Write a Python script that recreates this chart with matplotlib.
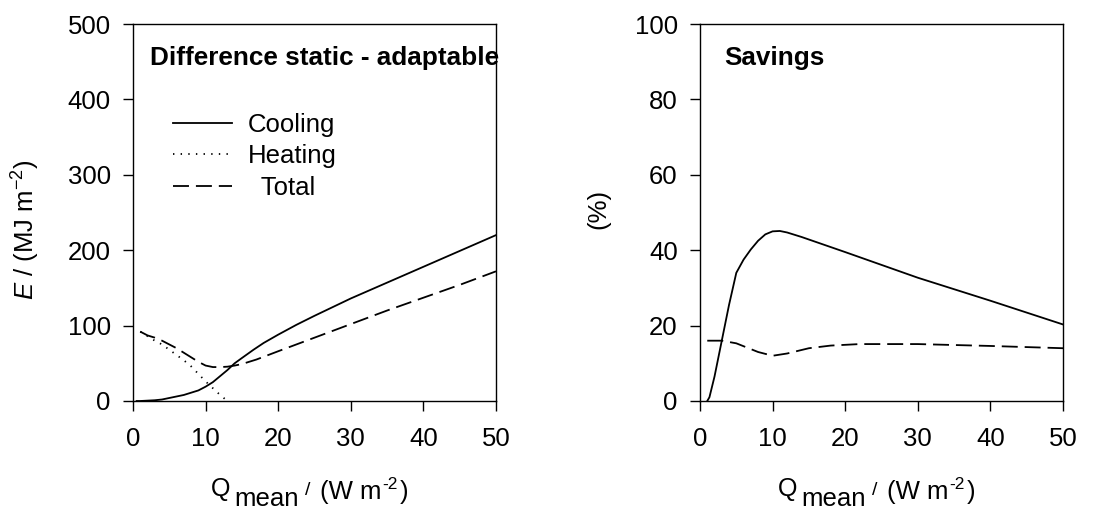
import matplotlib
matplotlib.use("Agg")
import matplotlib.pyplot as plt

plt.rcParams['font.family'] = ['Liberation Sans', 'DejaVu Sans']
plt.rcParams['mathtext.fontset'] = 'custom'
plt.rcParams['mathtext.rm'] = 'Liberation Sans'
plt.rcParams['mathtext.it'] = 'Liberation Sans:italic'
plt.rcParams['mathtext.bf'] = 'Liberation Sans:bold'
plt.rcParams['lines.scale_dashes'] = False

# ---- Left panel: Difference static - adaptable (MJ m-2)
q_cool = [0.5, 1, 2, 3, 4, 5, 6, 7, 8, 9, 10, 11, 12, 13, 14, 15, 16.6, 18, 20, 22.5, 25, 30, 35, 40, 45, 50]
e_cool = [0, 0, 0.5, 1, 2, 4, 6, 8, 11, 14, 19, 25, 33, 41, 50, 57, 68, 77, 88, 101, 113, 136, 157, 178, 199, 220]

q_heat = [1, 2, 3, 4, 5, 6, 7, 8, 9, 10, 11, 12, 13]
e_heat = [92, 86, 80, 75, 68, 61, 54, 46, 36, 26, 17, 8, 0]

q_tot = [1, 2, 3, 4, 5, 6, 7, 8, 9, 10, 11, 12, 13, 14, 15, 17, 20, 25, 30, 35, 40, 45, 50]
e_tot = [92, 87, 84, 80, 75, 70, 64, 58, 52, 47, 45, 45, 45.5, 47, 49, 55, 66, 84, 102, 120, 137, 154, 172]

# ---- Right panel: Savings (%)
q_scool = [1.0, 1.3, 2, 3, 4, 5, 6, 7, 8, 9, 10, 11, 12, 14, 20, 30, 40, 50]
s_cool = [0, 1, 6.5, 16, 25.5, 34, 37.5, 40.2, 42.5, 44.2, 45, 45.1, 44.7, 43.5, 39.5, 32.7, 26.6, 20.3]

q_stot = [1, 2, 3, 5, 8, 10, 12, 15, 18, 22, 30, 40, 50]
s_tot = [16, 16, 16, 15.3, 13, 12, 12.6, 14, 14.7, 15.1, 15.1, 14.6, 14]

xticks = [0, 10, 20, 30, 40, 50]
yticks_left = [0, 100, 200, 300, 400, 500]
yticks_right = [0, 20, 40, 60, 80, 100]

FS = 18.5
LW = 1.3
DASH = (11.5, 5)
DOT = (1.0, 4.5)
W, H = 1099, 525

fig = plt.figure(figsize=(W / 100, H / 100), dpi=100)
axL = fig.add_axes([133 / W, 124 / H, 363 / W, 377 / H])
axR = fig.add_axes([700 / W, 124 / H, 363 / W, 377 / H])

axL.plot(q_cool, e_cool, color='black', lw=LW, label='Cooling')
axL.plot(q_heat, e_heat, color='black', lw=LW, linestyle=(0, DOT), label='Heating')
axL.plot(q_tot, e_tot, color='black', lw=LW, linestyle=(0, DASH), label='  Total')

axR.plot(q_scool, s_cool, color='black', lw=LW)
axR.plot(q_stot, s_tot, color='black', lw=LW, linestyle=(0, DASH))

for ax, yt in ((axL, yticks_left), (axR, yticks_right)):
    ax.set_xlim(0, 50)
    ax.set_ylim(yt[0], yt[-1])
    ax.set_xticks(xticks)
    ax.set_yticks(yt)
    ax.tick_params(direction='out', length=7, width=1.0, labelsize=FS)
    ax.tick_params(axis='x', pad=12)
    ax.tick_params(axis='y', pad=9)
    for s in ax.spines.values():
        s.set_linewidth(1.0)


def xlabel_at(x0):
    # x label "Q_mean / (W m-2)" composed of pieces, pixel positions
    def px(x, y):
        return x / W, 1 - y / H
    fig.text(*px(x0, 496), 'Q', fontsize=18, ha='left', va='baseline')
    fig.text(*px(x0 + 23, 506), 'mean', fontsize=18.5, ha='left', va='baseline')
    fig.text(*px(x0 + 94, 495), '/', fontsize=14, ha='left', va='baseline')
    fig.text(*px(x0 + 109, 499), '(W m', fontsize=FS, ha='left', va='baseline')
    fig.text(*px(x0 + 171, 489), '-2', fontsize=12.5, ha='left', va='baseline')
    fig.text(*px(x0 + 189, 499), ')', fontsize=FS, ha='left', va='baseline')


xlabel_at(211)
xlabel_at(211 + 567)

axL.set_ylabel(r'$E$ / (MJ m$^{-2}$)', fontsize=FS)
axR.set_ylabel('(%)', fontsize=FS)
axL.yaxis.set_label_coords(-0.25, 0.4536)
axR.yaxis.set_label_coords(-0.247, 0.509)

axL.text(0.047, 0.91, 'Difference static - adaptable', transform=axL.transAxes,
         fontsize=18.8, fontweight='bold', va='center', ha='left')
axR.text(0.066, 0.91, 'Savings', transform=axR.transAxes,
         fontsize=18.8, fontweight='bold', va='center', ha='left')

leg = axL.legend(loc='upper left', bbox_to_anchor=(0.11, 0.765), frameon=False,
                 fontsize=FS, handlelength=2.3, handletextpad=0.6,
                 labelspacing=0.3, borderpad=0, borderaxespad=0)

fig.savefig('out.png', dpi=100)
